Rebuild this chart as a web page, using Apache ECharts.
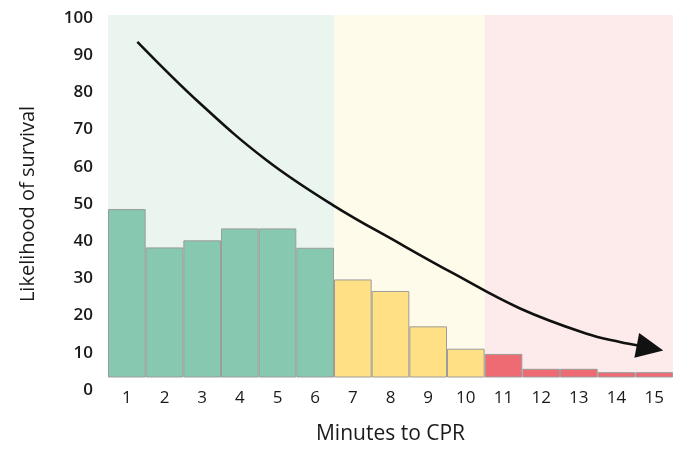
<!DOCTYPE html>
<html>
<head>
<meta charset="utf-8">
<script src="https://cdn.jsdelivr.net/npm/echarts@6/dist/echarts.min.js"></script>
<style>
  html, body { margin: 0; padding: 0; background: #fff; }
  #chart { width: 689px; height: 457px; }
</style>
</head>
<body>
<div id="chart"></div>
<script>
// minutes to CPR (categories) and survival bars
var minutes = ['1','2','3','4','5','6','7','8','9','10','11','12','13','14','15'];
var survival = [48.7, 38.4, 40.3, 43.5, 43.5, 38.3, 29.8, 26.7, 17.2, 11.2, 9.8, 5.8, 5.8, 4.9, 4.9];
var yTicks = [0, 10, 20, 30, 40, 50, 60, 70, 80, 90, 100];
// trend arrow, drawn on a value axis (0.5 .. 15.5)
var trendX = [1.28, 2.94, 4.71, 6.48, 8.25, 9.67, 11.44, 13.21, 14.09, 14.62];
var trendY = [93.6, 77.1, 61.8, 49.7, 39.4, 31.4, 22.0, 15.2, 13.0, 12.0];
var arrowHead = [14.89, 11.4];
// zones: good (1-6), warning (7-10), critical (11-15)
var zoneEdges = [0.5, 6.5, 10.5, 15.5];

var chart = echarts.init(document.getElementById('chart'));

var barColors = ['#86c8b0', '#ffe084', '#ef6b74'];
var zoneColors = ['#eaf5f0', '#fefbea', '#fcebea'];

function zoneOf(i) {
  var m = i + 1;
  for (var z = 0; z < 3; z++) {
    if (m > zoneEdges[z] && m < zoneEdges[z + 1]) return z;
  }
  return 2;
}

var trend = trendX.map(function (x, i) { return [x, trendY[i]]; });

var font = 'Open Sans';

chart.setOption({
  animation: false,
  grid: [
    { left: 108, right: 16, top: 15, bottom: 80 },
    { left: 108, right: 16, top: 18, bottom: 67 }
  ],
  xAxis: [
    {
      type: 'category', gridIndex: 0, data: minutes,
      axisLine: { show: false }, axisTick: { show: false },
      axisLabel: { color: '#1a1a1a', fontSize: 17, fontFamily: font, margin: 13 },
      name: 'Minutes to CPR', nameLocation: 'middle', nameGap: 47,
      nameTextStyle: { color: '#1a1a1a', fontSize: 21, fontFamily: font }
    },
    {
      type: 'value', gridIndex: 0, min: 0.5, max: 15.5, show: false
    },
    {
      type: 'value', gridIndex: 1, show: false
    }
  ],
  yAxis: [
    {
      type: 'value', gridIndex: 0, min: 3.6, max: 100.8, show: false, splitLine: { show: false }
    },
    {
      type: 'value', gridIndex: 1, min: 0, max: 100, interval: 10,
      axisLine: { show: false }, axisTick: { show: false }, splitLine: { show: false },
      axisLabel: { color: '#1a1a1a', fontSize: 17, fontWeight: 600, fontFamily: font, margin: 15,
        formatter: function (v) { return yTicks.indexOf(v) >= 0 ? String(v) : ''; } },
      name: 'Likelihood of survival', nameLocation: 'middle', nameGap: 70, nameRotate: 90,
      nameTextStyle: { color: '#1a1a1a', fontSize: 20, fontFamily: font }
    }
  ],
  series: [
    {
      type: 'line', xAxisIndex: 1, yAxisIndex: 0, data: [], z: 0, silent: true,
      markArea: {
        silent: true,
        data: [0, 1, 2].map(function (z) {
          return [
            { xAxis: zoneEdges[z], yAxis: 3.6, itemStyle: { color: zoneColors[z] } },
            { xAxis: zoneEdges[z + 1], yAxis: 100.8 }
          ];
        })
      }
    },
    {
      type: 'bar', xAxisIndex: 0, yAxisIndex: 0, z: 2,
      barCategoryGap: 0,
      data: survival.map(function (v, i) {
        return { value: v, itemStyle: { color: barColors[zoneOf(i)] } };
      }),
      itemStyle: { borderColor: '#9c9c9c', borderWidth: 1 }
    },
    {
      type: 'line', xAxisIndex: 1, yAxisIndex: 0, z: 5,
      data: trend, smooth: 0.4, showSymbol: false,
      lineStyle: { color: '#111', width: 2.6 }
    },
    {
      type: 'scatter', xAxisIndex: 1, yAxisIndex: 0, z: 6,
      data: [arrowHead], symbol: 'triangle', symbolSize: [25, 27], symbolRotate: -101,
      itemStyle: { color: '#111', opacity: 1 }
    }
  ]
});
</script>
</body>
</html>
